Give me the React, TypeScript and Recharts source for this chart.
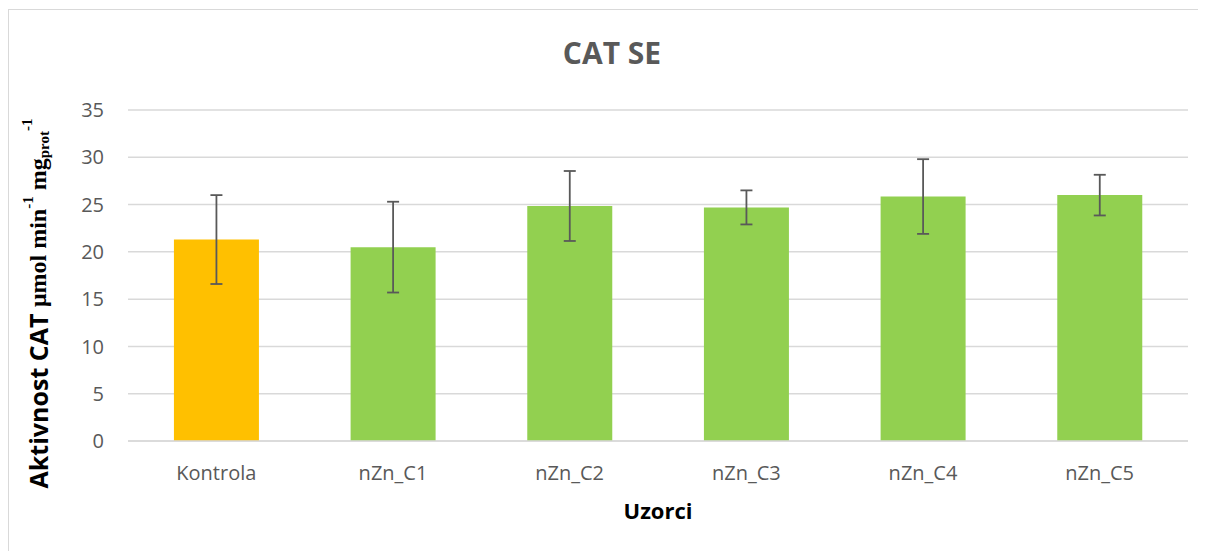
import { BarChart, Bar, XAxis, YAxis, CartesianGrid, ErrorBar, Cell } from 'recharts'

const CATEGORIES = ['Kontrola', 'nZn_C1', 'nZn_C2', 'nZn_C3', 'nZn_C4', 'nZn_C5']
const VALUES = [21.3, 20.5, 24.85, 24.7, 25.85, 26.0]
const ERRORS = [4.7, 4.8, 3.7, 1.8, 3.95, 2.15]
const Y_TICKS = [0, 5, 10, 15, 20, 25, 30, 35]

const CONTROL_COLOR = '#FFC000'
const SAMPLE_COLOR = '#92D050'
const TEXT_GRAY = '#595959'
const GRID = '#D9D9D9'
const SANS = '"Open Sans", "Liberation Sans", sans-serif'
const SERIF = '"Liberation Serif", "DejaVu Serif", serif'

const chartData = CATEGORIES.map((name, i) => ({
  name,
  value: VALUES[i],
  err: ERRORS[i],
}))

// y axis title: sans part + serif units with super/subscripts
function YLabel(props: any) {
  const vb = props.viewBox || { x: 0, y: 100, width: 119, height: 331 }
  const cx = vb.x + 29
  const cy = vb.y + vb.height / 2 + 28
  return (
    <text
      x={cx}
      y={cy}
      transform={`rotate(-90, ${cx}, ${cy})`}
      textAnchor="middle"
      dominantBaseline="central"
      fill="#000"
      fontWeight="bold"
    >
      <tspan fontFamily={SANS} fontSize={25}>Aktivnost CAT </tspan>
      <tspan fontFamily={SERIF} fontSize={24}>μmol min</tspan>
      <tspan fontFamily={SERIF} fontSize={15} dy={-10}>-1</tspan>
      <tspan fontFamily={SERIF} fontSize={24} dy={10}> mg</tspan>
      <tspan fontFamily={SERIF} fontSize={15} dy={6}>prot</tspan>
      <tspan fontFamily={SERIF} fontSize={15} dy={-17}>-1</tspan>
    </text>
  )
}

export default function App() {
  return (
    <div
      style={{
        position: 'relative',
        width: 1198,
        height: 542,
        marginTop: 1,
        borderTop: `1px solid ${GRID}`,
        borderLeft: `1px solid ${GRID}`,
        background: '#fff',
      }}
    >
      <style>{'html, body { overflow: hidden; }'}</style>
      <div
        style={{
          position: 'absolute',
          top: 22,
          left: 0,
          width: 1206,
          textAlign: 'center',
          fontFamily: SANS,
          fontWeight: 'bold',
          fontSize: 30,
          color: TEXT_GRAY,
        }}
      >
        CAT SE
      </div>
      <BarChart
        width={1197}
        height={542}
        data={chartData}
        margin={{ top: 100, right: 18, bottom: 0, left: 0 }}
        barCategoryGap="26%"
      >
        <CartesianGrid vertical={false} stroke={GRID} strokeWidth={1.5} />
        <XAxis
          dataKey="name"
          height={111}
          tickLine={false}
          tickSize={0}
          tickMargin={25}
          axisLine={{ stroke: GRID, strokeWidth: 1.5 }}
          tick={{ fill: TEXT_GRAY, fontSize: 20, fontFamily: SANS }}
          label={{
            value: 'Uzorci',
            position: 'insideTop',
            offset: 62,
            fill: '#000',
            fontSize: 22,
            fontWeight: 'bold',
            fontFamily: SANS,
          }}
        />
        <YAxis
          width={119}
          domain={[0, 35]}
          ticks={Y_TICKS}
          interval={0}
          tickLine={false}
          tickSize={0}
          tickMargin={24}
          axisLine={false}
          tick={{ fill: TEXT_GRAY, fontSize: 20, fontFamily: SANS }}
          label={<YLabel />}
        />
        <Bar dataKey="value" isAnimationActive={false}>
          {chartData.map((d, i) => (
            <Cell key={d.name} fill={i === 0 ? CONTROL_COLOR : SAMPLE_COLOR} />
          ))}
          <ErrorBar
            dataKey="err"
            direction="y"
            width={6}
            stroke={TEXT_GRAY}
            strokeWidth={1.8}
            isAnimationActive={false}
          />
        </Bar>
      </BarChart>
    </div>
  )
}
